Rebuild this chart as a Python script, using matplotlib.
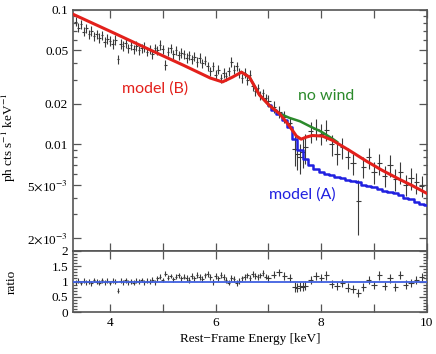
import matplotlib
matplotlib.use('Agg')
import matplotlib.pyplot as plt
import matplotlib.ticker as ticker
import numpy as np

plt.rcParams['font.family'] = 'Liberation Serif'
plt.rcParams['mathtext.fontset'] = 'stix'

# spectrum
energy = [3.35, 3.40, 3.45, 3.50, 3.55, 3.60, 3.65, 3.70, 3.75, 3.80, 3.85, 3.90, 3.95,
          4.00, 4.05, 4.10, 4.15, 4.20, 4.25, 4.30, 4.35, 4.40, 4.45, 4.50, 4.55, 4.60,
          4.65, 4.70, 4.75, 4.80, 4.85, 4.90, 4.95, 5.00, 5.05, 5.10, 5.15, 5.20, 5.25,
          5.30, 5.35, 5.40, 5.45, 5.50, 5.55, 5.60, 5.65, 5.70, 5.75, 5.80, 5.85, 5.90,
          5.95, 6.00, 6.05, 6.10, 6.15, 6.20, 6.25, 6.30, 6.35, 6.40, 6.45, 6.50, 6.55,
          6.60, 6.65, 6.70, 6.75, 6.80, 6.85, 6.90, 6.95, 7.00, 7.10, 7.20, 7.30, 7.40,
          7.50, 7.55, 7.60, 7.65, 7.70, 7.80, 7.90, 8.00, 8.10, 8.20, 8.30, 8.40, 8.50,
          8.60, 8.70, 8.80, 8.90, 9.00, 9.10, 9.20, 9.30, 9.40, 9.50, 9.60, 9.70, 9.80,
          9.90]
flux = [0.082, 0.074, 0.078, 0.069, 0.073, 0.066, 0.070, 0.064, 0.066, 0.062, 0.065, 0.058, 0.061,
        0.059, 0.056, 0.060, 0.043, 0.056, 0.054, 0.057, 0.052, 0.055, 0.051, 0.054, 0.050, 0.052,
        0.053, 0.049, 0.051, 0.047, 0.052, 0.050, 0.055, 0.051, 0.039, 0.049, 0.052, 0.047, 0.050,
        0.046, 0.048, 0.047, 0.044, 0.046, 0.043, 0.045, 0.041, 0.044, 0.040, 0.042, 0.038, 0.035,
        0.038, 0.033, 0.036, 0.031, 0.034, 0.032, 0.035, 0.041, 0.036, 0.038, 0.034, 0.031, 0.034,
        0.030, 0.033, 0.027, 0.025, 0.026, 0.023, 0.024, 0.022, 0.021, 0.019, 0.0175, 0.016, 0.0145,
        0.0092, 0.0085, 0.0080, 0.0088, 0.0095, 0.0125, 0.0130, 0.0120, 0.0128, 0.0100, 0.0085, 0.0095, 0.0080,
        0.0072, 0.0038, 0.0068, 0.0080, 0.0062, 0.0072, 0.0058, 0.0070, 0.0055, 0.0062, 0.0050, 0.0056, 0.0052,
        0.0049]
flux_err_rel = [0.08] * 40 + [0.08] * 33 + [0.10] * 5 + [0.25] * 5 + [0.18] * 22
ebin = [0.025] * 73 + [0.05] * 32

ratio = [0.97, 1.02, 0.95, 1.03, 0.98, 1.00, 0.94, 1.05, 0.99, 0.96, 1.04, 0.98, 1.02,
         0.95, 1.03, 1.00, 0.70, 1.02, 0.97, 1.04, 0.98, 1.01, 0.96, 1.03, 0.99, 1.05,
         0.97, 1.02, 1.00, 1.06, 0.98, 1.10, 1.15, 1.05, 1.25, 1.12, 1.18, 1.08, 1.15,
         1.20, 1.10, 1.16, 1.12, 1.05, 1.18, 1.10, 1.22, 1.14, 1.08, 1.20, 1.25, 1.15,
         0.98, 1.18, 1.10, 1.22, 1.15, 1.05, 0.96, 1.12, 1.08, 0.95, 1.02, 1.10, 1.15,
         1.20, 1.12, 1.25, 1.18, 1.14, 1.20, 1.28, 1.16, 1.10, 1.22, 1.30, 1.18, 1.12,
         0.82, 0.80, 0.85, 0.83, 0.86, 1.05, 1.18, 1.12, 1.20, 0.92, 0.85, 0.95, 0.80,
         0.75, 0.62, 0.82, 1.05, 0.88, 1.20, 0.85, 1.10, 0.82, 1.22, 0.90, 0.95, 1.05,
         1.15]
ratio_err = [0.08] * 40 + [0.09] * 33 + [0.12] * 5 + [0.15] * 5 + [0.14] * 22

# models
model_e = [3.30, 4.00, 4.70, 5.40, 5.90, 6.13, 6.32, 6.49, 6.64, 6.83, 7.02, 7.21, 7.39,
           7.53, 7.62, 7.72, 7.83, 8.02, 8.21, 8.53, 8.85, 9.15, 9.47, 9.73, 10.0]
model_b = [0.093, 0.0695, 0.0517, 0.0386, 0.0311, 0.0291, 0.0316, 0.0344, 0.0316, 0.0233,
           0.0194, 0.0169, 0.0138, 0.0115, 0.0109, 0.0113, 0.0116, 0.0115, 0.0107, 0.0090,
           0.0075, 0.0064, 0.0055, 0.0049, 0.0043]
model_a_e = [7.0, 7.1, 7.2, 7.3, 7.4, 7.5, 7.6, 7.7, 7.8, 7.9, 8.0, 8.1, 8.2, 8.3, 8.4, 8.5,
             8.6, 8.7, 8.8, 8.9, 9.0, 9.1, 9.2, 9.3, 9.4, 9.5, 9.6, 9.7, 9.8, 9.9, 10.0]
model_a = [0.0195, 0.0181, 0.0169, 0.0152, 0.0135, 0.0110, 0.0090, 0.0078, 0.0070, 0.0065,
           0.0062, 0.0060, 0.0059, 0.0057, 0.0056, 0.0054, 0.0053, 0.0052, 0.0050, 0.0049,
           0.0048, 0.0046, 0.0045, 0.0044, 0.0043, 0.0042, 0.0040, 0.0039, 0.0037, 0.0036,
           0.0035]
nowind_e = [6.49, 6.64, 6.83, 7.02, 7.21, 7.40, 7.60, 7.80, 8.00, 8.21, 8.30]
nowind = [0.0344, 0.0316, 0.0233, 0.0194, 0.0169, 0.0157, 0.0148, 0.0135, 0.0124, 0.0110, 0.0104]

red = '#e3201b'
green = '#2b8a2b'
blue = '#2020e0'
axcol = '#555555'

fig = plt.figure(figsize=(4.36, 3.54), dpi=100)
ax = fig.add_axes([0.1674, 0.2910, 0.8116, 0.6808])
ax2 = fig.add_axes([0.1674, 0.1186, 0.8116, 0.1724], sharex=ax)

flux = np.array(flux)
ferr = flux * np.array(flux_err_rel)
ferr_up = ferr.copy()
ferr_dn = ferr.copy()
ferr_up[92] = 0.0016
ferr_dn[92] = 0.0017
ax.errorbar(energy, flux, xerr=ebin, yerr=[ferr_dn, ferr_up], fmt='none',
            ecolor='#3a3a3a', elinewidth=0.8, capsize=0, zorder=2)
ax.plot(model_a_e, model_a, color=blue, lw=1.8, drawstyle='steps-mid', zorder=3)
ax.plot(nowind_e, nowind, color=green, lw=1.8, zorder=3)
ax.plot(model_e, model_b, color=red, lw=2.2, zorder=4)

ann = dict(family=['Lato', 'DejaVu Sans'], fontsize=11.5, ha='center', va='center')
ax.text(4.85, 0.0258, 'model (B)', color=red, **ann)
ax.text(8.1, 0.0229, 'no wind', color=green, **ann)
ax.text(7.65, 0.0042, 'model (A)', color=blue, **ann)

ax.set_yscale('log')
ax.set_xlim(3.3, 10)
ax.set_ylim(1.6e-3, 0.1)
ax.set_yticks([0.1, 0.05, 0.02, 0.01, 5e-3, 2e-3])
ax.set_yticklabels(['0.1', '0.05', '0.02', '0.01', r'5$\times$10$^{-3}$', r'2$\times$10$^{-3}$'])
ax.yaxis.set_minor_locator(ticker.LogLocator(base=10, subs=np.arange(2, 10)))
ax.yaxis.set_minor_formatter(ticker.NullFormatter())
ax.set_ylabel('ph cts s$^{-1}$ keV$^{-1}$', fontsize=9.5)
ax.tick_params(labelbottom=False)

ax2.errorbar(energy, ratio, xerr=ebin, yerr=ratio_err, fmt='none',
             ecolor='#3a3a3a', elinewidth=0.8, capsize=0, zorder=2)
ax2.axhline(1, color='#4060e0', lw=1.3, zorder=3)
ax2.set_ylim(0, 2)
ax2.set_yticks([0, 0.5, 1, 1.5, 2])
ax2.set_yticklabels(['0', '0.5', '1', '1.5', '2'])
ax2.yaxis.set_minor_locator(ticker.MultipleLocator(0.1))
ax2.set_ylabel('ratio', fontsize=9.5)
ax2.set_xlabel('Rest\u2212Frame Energy [keV]', fontsize=9.5, labelpad=3)

for a in (ax, ax2):
    a.xaxis.set_major_locator(ticker.MultipleLocator(2))
    a.xaxis.set_minor_locator(ticker.MultipleLocator(1))
    a.tick_params(which='both', direction='in', top=True, right=True, colors=axcol,
                  labelcolor='black', labelsize=9.5, width=0.9)
    a.tick_params(which='major', length=6)
    a.tick_params(which='minor', length=3)
    a.tick_params(axis='x', which='minor', length=6)
    for s in a.spines.values():
        s.set_color(axcol)
        s.set_linewidth(1.2)

ax.yaxis.set_label_coords(-0.155, 0.47)
ax2.yaxis.set_label_coords(-0.155, 0.5)

fig.savefig('out.png', dpi=100)
